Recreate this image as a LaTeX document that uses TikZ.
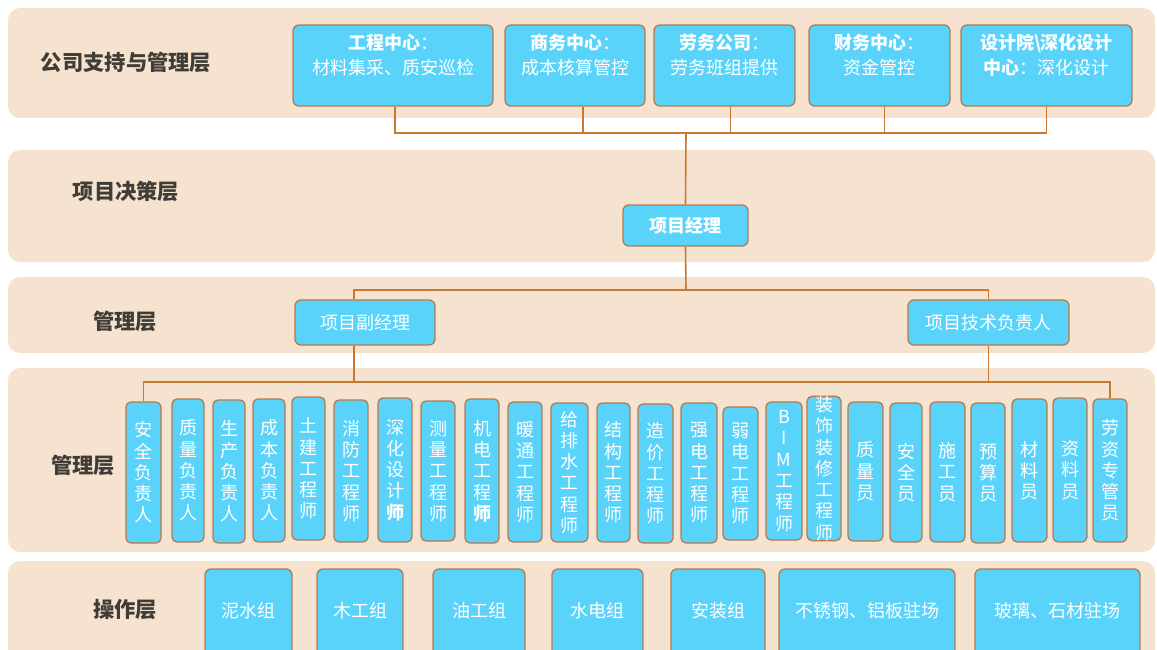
\documentclass[tikz,border=0pt]{standalone}
\usepackage{fontspec}
\setmainfont{Noto Sans CJK SC}
\definecolor{bandc}{HTML}{F5E3D0}
\definecolor{boxfill}{HTML}{5AD3FA}
\definecolor{boxline}{HTML}{B47A4E}
\definecolor{connc}{HTML}{C8782F}
\definecolor{lblc}{HTML}{403C38}
\tikzset{
  bandbg/.style={fill=bandc, draw=none, rounded corners=12pt},
  cbox/.style={draw=boxline, fill=boxfill, line width=1.3pt, rounded corners=6pt, text=white,
    inner sep=0pt, align=center, font=\fontsize{18}{21}\selectfont},
  boxtxt/.style={text=white, inner sep=0pt, align=center, font=\fontsize{18}{25}\selectfont},
  vbx/.style={cbox, rounded corners=5pt, font=\fontsize{18}{21.3}\selectfont},
  link/.style={draw=connc, line width=1.6pt},
  layerlbl/.style={text=lblc, font=\fontsize{21.3}{25}\selectfont\bfseries}
}
\newcommand{\mybox}[7]{\node[#6,minimum width={(#4-#2)*1pt},minimum height={(#5-#3)*1pt}] (#1) at ({(#2+#4)/2},{(#3+#5)/2}) {#7};}
\newcommand{\txtbox}[7]{\node[cbox,minimum width={(#4-#2)*1pt},minimum height={(#5-#3)*1pt}] (#1) at ({(#2+#4)/2},{(#3+#5)/2}) {};
  \node[boxtxt] (#1-t) at ({(#2+#4)/2},#6) {#7};}
\begin{document}
\begin{tikzpicture}[x=1pt,y=-1pt]
\useasboundingbox (0,0) rectangle (1157,650);
\clip (0,0) rectangle (1157,650);
% bands
\fill[bandbg] (8,8) rectangle (1155,118);
\fill[bandbg] (8,150) rectangle (1155,262);
\fill[bandbg] (8,277) rectangle (1155,353);
\fill[bandbg] (8,368) rectangle (1155,552);
\fill[bandbg] (8,561) rectangle (1155,680);
% layer labels
\node[layerlbl] (L1) at (126,62) {公司支持与管理层};
\node[layerlbl] (L2) at (126,191) {项目决策层};
\node[layerlbl] (L3) at (125,321) {管理层};
\node[layerlbl] (L4) at (83,465) {管理层};
\node[layerlbl] (L5) at (125,610) {操作层};
% top boxes
\txtbox{t1}{293}{25}{493}{106}{55.5}{\textbf{工程中心}：\\材料集采、质安巡检}
\txtbox{t2}{505}{25}{645}{106}{55.5}{\textbf{商务中心}：\\成本核算管控}
\txtbox{t3}{654}{25}{795}{106}{55.5}{\textbf{劳务公司}：\\劳务班组提供}
\txtbox{t4}{809}{25}{950}{106}{55.5}{\textbf{财务中心}：\\资金管控}
\txtbox{t5}{961}{25}{1132}{106}{55.5}{\textbf{设计院\textbackslash 深化设计}\\\textbf{中心}：深化设计}
% decision
\mybox{pm}{623}{205}{748}{246}{cbox}{\textbf{项目经理}}
% management
\mybox{vpm}{295}{300}{435}{345}{cbox}{项目副经理}
\mybox{tech}{908}{300}{1069}{345}{cbox}{项目技术负责人}
% vertical boxes
\foreach \n/\xa/\ya/\xb/\yb/\t in {
  v1/126/402/161/543/{安\\全\\负\\责\\人},
  v2/172/399/204/542/{质\\量\\负\\责\\人},
  v3/213/400/245/543/{生\\产\\负\\责\\人},
  v4/253/399/285/542/{成\\本\\负\\责\\人},
  v5/292/397/325/540/{土\\建\\工\\程\\师},
  v6/334/400/368/542/{消\\防\\工\\程\\师},
  v7/378/398/412/542/{深\\化\\设\\计\\\textbf{师}},
  v8/421/401/455/541/{测\\量\\工\\程\\师},
  v9/465/399/499/543/{机\\电\\工\\程\\\textbf{师}},
  v10/508/402/542/542/{暖\\通\\工\\程\\师},
  v11/551/403/588/542/{给\\排\\水\\工\\程\\师},
  v12/597/403/630/542/{结\\构\\工\\程\\师},
  v13/638/404/673/543/{造\\价\\工\\程\\师},
  v14/681/403/717/543/{强\\电\\工\\程\\师},
  v15/723/407/758/540/{弱\\电\\工\\程\\师},
  v16/766/402/802/540/{B\\I\\M\\工\\程\\师},
  v17/807/397/841/540/{装\\饰\\装\\修\\工\\程\\师},
  v18/848/402/883/541/{质\\量\\员},
  v19/890/403/922/542/{安\\全\\员},
  v20/930/402/965/542/{施\\工\\员},
  v21/971/403/1005/543/{预\\算\\员},
  v22/1012/399/1047/542/{材\\料\\员},
  v23/1053/398/1087/542/{资\\料\\员},
  v24/1093/399/1127/542/{劳\\资\\专\\管\\员}}
{\mybox{\n}{\xa}{\ya}{\xb}{\yb}{vbx}{\t}}
% operation boxes
\txtbox{o1}{205}{569}{292}{665}{611}{泥水组}
\txtbox{o2}{317}{569}{403}{665}{611}{木工组}
\txtbox{o3}{433}{569}{525}{665}{611}{油工组}
\txtbox{o4}{552}{569}{643}{665}{611}{水电组}
\txtbox{o5}{671}{569}{765}{665}{611}{安装组}
\txtbox{o6}{779}{569}{955}{665}{611}{不锈钢、铝板驻场}
\txtbox{o7}{975}{569}{1140}{665}{611}{玻璃、石材驻场}
% connectors
\coordinate (tbus) at (686,133);
\coordinate (mbus) at (686,290);
\coordinate (lbus) at (354,382);
\draw[link] ([xshift=2pt]t1.south) |- (tbus);
\draw[link] ([xshift=8pt]t2.south) |- (tbus);
\draw[link] ([xshift=6pt]t3.south) |- (tbus);
\draw[link] ([xshift=5pt]t4.south) |- (tbus);
\draw[link] ([xshift=0pt]t5.south) |- (tbus);
\draw[link] (tbus) -- (pm.north);
\draw[link] (pm.south) -- (mbus);
\draw[link] (mbus) -| ([xshift=-11pt]vpm.north);
\draw[link] (mbus) -| (tech.north);
\draw[link] ([xshift=-11pt]vpm.south) -- (lbus);
\draw[link] (v1.north) |- (lbus);
\draw[link] (lbus) -| (v24.north);
\draw[link] (tech.south) -- (tech.south |- lbus);
\end{tikzpicture}
\end{document}
